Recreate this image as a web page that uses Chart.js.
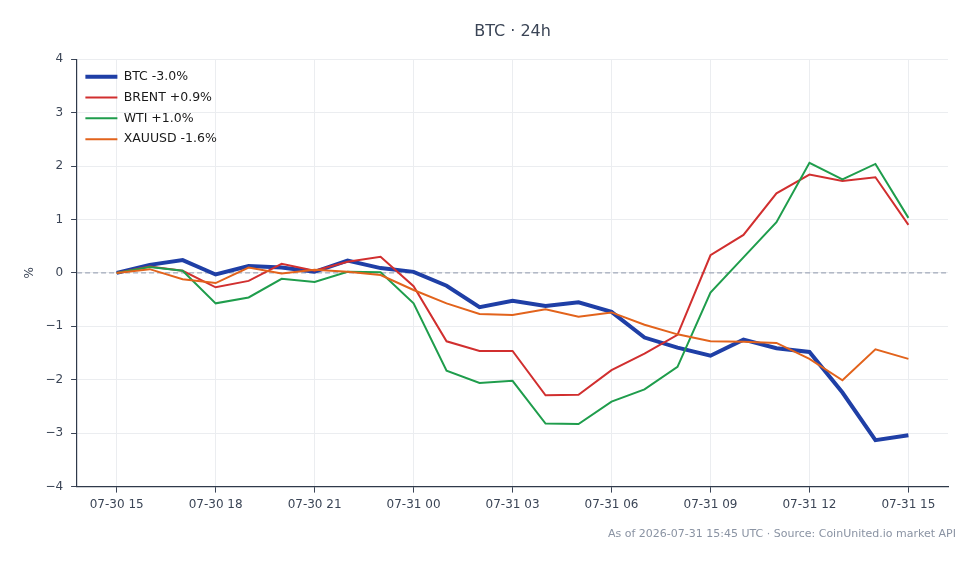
<!DOCTYPE html>
<html>
<head>
<meta charset="utf-8">
<script src="https://cdn.jsdelivr.net/npm/chart.js@4"></script>
<style>
  html, body { margin: 0; padding: 0; background: #fff; }
  #wrap { width: 980px; height: 564px; position: relative; }
</style>
</head>
<body>
<div id="wrap"><canvas id="chart"></canvas></div>
<script>
// hourly timestamps, 07-30 15:00 -> 07-31 15:00
const times = [
    '07-30 15', '07-30 16', '07-30 17', '07-30 18', '07-30 19', '07-30 20', '07-30 21', '07-30 22', '07-30 23',
    '07-31 00', '07-31 01', '07-31 02', '07-31 03', '07-31 04', '07-31 05', '07-31 06', '07-31 07', '07-31 08',
    '07-31 09', '07-31 10', '07-31 11', '07-31 12', '07-31 13', '07-31 14', '07-31 15'
];
const tickHours = [0, 3, 6, 9, 12, 15, 18, 21, 24];
const yTicks = [-4, -3, -2, -1, 0, 1, 2, 3, 4];

// % change since start
const btc = [0, 0.15, 0.24, -0.03, 0.13, 0.10, 0.02, 0.23, 0.09, 0.02, -0.24, -0.64, -0.52, -0.62, -0.55, -0.73,
    -1.21, -1.40, -1.55, -1.25, -1.41, -1.48, -2.24, -3.13, -3.04];
const brent = [0, 0.12, 0.04, -0.27, -0.15, 0.17, 0.04, 0.21, 0.30, -0.25, -1.28, -1.46, -1.46, -2.29, -2.28, -1.82,
    -1.51, -1.16, 0.33, 0.71, 1.49, 1.84, 1.72, 1.79, 0.90];
const wti = [0, 0.11, 0.04, -0.57, -0.46, -0.11, -0.17, 0.02, 0.01, -0.57, -1.83, -2.06, -2.02, -2.82, -2.83, -2.41,
    -2.18, -1.76, -0.37, 0.29, 0.95, 2.06, 1.75, 2.04, 1.03];
const xauusd = [0, 0.07, -0.12, -0.19, 0.10, -0.01, 0.06, 0.02, -0.04, -0.32, -0.57, -0.77, -0.79, -0.68, -0.82, -0.74,
    -0.97, -1.15, -1.28, -1.29, -1.31, -1.61, -2.01, -1.43, -1.61];

const seriesNames = ['BTC -3.0%', 'BRENT +0.9%', 'WTI +1.0%', 'XAUUSD -1.6%'];
const footerText = 'As of 2026-07-31 15:45 UTC \u00b7 Source: CoinUnited.io market API';

const FONT = 'DejaVu Sans';
const TEXT = '#3b4556';

function toPoints(arr) {
    return arr.map((v, i) => ({ x: i, y: v }));
}

// dashed zero line, legend placement inside plot, footer note
const extras = {
    id: 'extras',
    afterLayout(chart) {
        // legend 'chartArea' position gets its top reset to 0, so move it into the plot
        const lg = chart.legend;
        const h = lg.bottom - lg.top;
        lg.top = chart.chartArea.top + 3;
        lg.bottom = lg.top + h;
        lg.left = chart.chartArea.left;
    },
    beforeDatasetsDraw(chart) {
        const { ctx, chartArea, scales } = chart;
        const y0 = scales.y.getPixelForValue(0);
        ctx.save();
        ctx.strokeStyle = '#8e98ab';
        ctx.lineWidth = 1;
        ctx.setLineDash([5, 3]);
        ctx.beginPath();
        ctx.moveTo(chartArea.left, y0);
        ctx.lineTo(chartArea.right, y0);
        ctx.stroke();
        ctx.restore();
    },
    afterDraw(chart) {
        const ctx = chart.ctx;
        ctx.save();
        ctx.font = '11px "' + FONT + '"';
        ctx.fillStyle = '#8a93a3';
        ctx.textAlign = 'right';
        ctx.textBaseline = 'middle';
        ctx.fillText(footerText, 956, 534);
        ctx.restore();
    }
};

// order: BTC is drawn first so the thinner lines sit on top of it
const ds = (label, data, color, width, order) => ({
    label: label,
    data: toPoints(data),
    borderColor: color,
    backgroundColor: color,
    borderWidth: width,
    pointRadius: 0,
    tension: 0,
    fill: false,
    order: order
});

new Chart(document.getElementById('chart'), {
    type: 'line',
    data: {
        datasets: [
            ds(seriesNames[0], btc, '#1f3fa6', 4, 4),
            ds(seriesNames[1], brent, '#d12f2f', 2, 3),
            ds(seriesNames[2], wti, '#1f9d4c', 2, 2),
            ds(seriesNames[3], xauusd, '#e2631c', 2, 1)
        ]
    },
    options: {
        responsive: true,
        maintainAspectRatio: false,
        animation: false,
        layout: { padding: { top: 0, left: 23, right: 32, bottom: 47 } },
        plugins: {
            title: {
                display: true,
                text: 'BTC \u00b7 24h',
                fullSize: false,
                color: '#3b4556',
                font: { family: FONT, size: 16, weight: 'normal' },
                padding: { top: 22, bottom: 18 }
            },
            legend: {
                position: 'chartArea',
                align: 'start',
                labels: {
                    usePointStyle: true,
                    pointStyle: 'line',
                    pointStyleWidth: 32,
                    color: '#1a1a1a',
                    font: { family: FONT, size: 12.5 },
                    padding: 8.3,
                    sort: (a, b) => a.datasetIndex - b.datasetIndex
                }
            },
            tooltip: { enabled: false }
        },
        scales: {
            x: {
                type: 'linear',
                min: -1.2,
                max: 25.2,
                afterBuildTicks: (scale) => { scale.ticks = tickHours.map(v => ({ value: v })); },
                grid: { color: '#ebedf0', tickColor: '#3b4556', tickLength: 6 },
                border: { color: '#2f3a4a', width: 1.2 },
                ticks: {
                    color: TEXT,
                    font: { family: FONT, size: 12 },
                    maxRotation: 0,
                    padding: 5,
                    callback: (v) => times[v]
                }
            },
            y: {
                min: -4,
                max: 4,
                afterBuildTicks: (scale) => { scale.ticks = yTicks.map(v => ({ value: v })); },
                grid: { color: '#ebedf0', tickColor: '#3b4556', tickLength: 6 },
                border: { color: '#2f3a4a', width: 1.2 },
                title: {
                    display: true,
                    text: '%',
                    color: TEXT,
                    font: { family: FONT, size: 12 },
                    padding: { top: 0, bottom: 0 }
                },
                ticks: {
                    color: TEXT,
                    font: { family: FONT, size: 12 },
                    padding: 8,
                    callback: (v) => String(v).replace('-', '\u2212')
                }
            }
        }
    },
    plugins: [extras]
});
</script>
</body>
</html>
